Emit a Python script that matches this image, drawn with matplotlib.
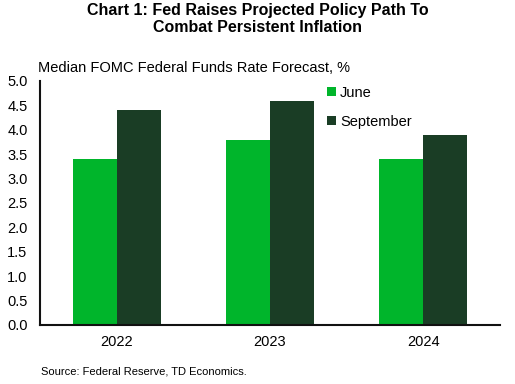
import matplotlib
matplotlib.use("Agg")
import matplotlib.pyplot as plt
import numpy as np

plt.rcParams['font.family'] = ['Liberation Sans', 'DejaVu Sans']

years = ["2022", "2023", "2024"]
june = [3.4, 3.8, 3.4]
september = [4.4, 4.6, 3.9]
yticks = [0.0, 0.5, 1.0, 1.5, 2.0, 2.5, 3.0, 3.5, 4.0, 4.5, 5.0]

c_june = "#00B52B"
c_sep = "#1A3D25"

fig = plt.figure(figsize=(5.15, 3.84), dpi=100)
ax = fig.add_axes([40/515, 1-325/384, 460/515, (325-81)/384])

x = np.arange(len(years))
w = 0.287
ax.bar(x - w/2, june, width=w, color=c_june, label="June")
ax.bar(x + w/2, september, width=w, color=c_sep, label="September")

ax.set_xlim(-0.5, 2.5)
ax.set_ylim(0, 5.0)
ax.set_yticks(yticks)
ax.set_yticklabels([f"{v:.1f}" for v in yticks], fontsize=10.5)
ax.set_xticks(x)
ax.set_xticklabels(years, fontsize=10.5)
ax.tick_params(axis='both', length=0)
ax.tick_params(axis='y', pad=9)
ax.tick_params(axis='x', pad=7)
for s in ['top', 'right']:
    ax.spines[s].set_visible(False)
ax.spines['left'].set_linewidth(1.5)
ax.spines['bottom'].set_linewidth(1.5)
ax.spines['left'].set_color('#111111')
ax.spines['bottom'].set_color('#111111')

leg = ax.legend(loc='upper left', bbox_to_anchor=(0.595, 1.035), frameon=False,
                fontsize=10.5, handlelength=0.6, handleheight=0.6, handletextpad=0.3,
                labelspacing=1.05)

fig.text(0.5, 1-3/384, "Chart 1: Fed Raises Projected Policy Path To\nCombat Persistent Inflation",
         ha='center', va='top', fontsize=11.5, fontweight='bold', linespacing=1.15)
fig.text(38/515, 1-68/384, "Median FOMC Federal Funds Rate Forecast, %", ha='left', va='center', fontsize=10.5)
fig.text(41/515, 1-372/384, "Source: Federal Reserve, TD Economics.", ha='left', va='center', fontsize=8)

fig.savefig("out.png", dpi=100)
